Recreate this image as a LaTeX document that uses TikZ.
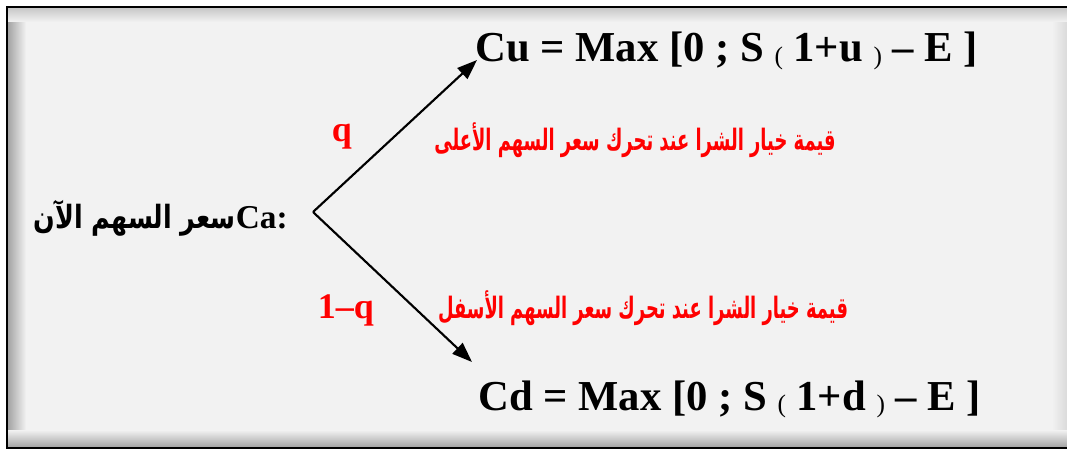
\documentclass[tikz,border=0pt]{standalone}
\usepackage{fontspec}
\setmainfont{Liberation Serif}
\newfontfamily\arabicfont[Script=Arabic]{DejaVu Sans}
\TeXXeTstate=1
\usetikzlibrary{arrows.meta}
\definecolor{bg}{HTML}{F2F2F2}
\definecolor{shadowdark}{HTML}{A4A4A4}
\definecolor{shadowmid}{HTML}{C8C8C8}
\definecolor{shadowlight}{HTML}{DADADA}
\newcommand{\smallparen}[1]{\raisebox{-2pt}{\mdseries\fontsize{19}{19}\selectfont #1}}
\tikzset{
  formula/.style={inner sep=0pt, anchor=base west, font=\bfseries\fontsize{32}{32}\selectfont},
  prob/.style={inner sep=0pt, text=red, font=\bfseries\fontsize{27}{27}\selectfont},
  arlabel/.style={inner sep=0pt, text=red, font=\arabicfont\bfseries\fontsize{17}{17}\selectfont},
  branch/.style={line width=1.6pt, -{Triangle[length=15pt,width=11pt]}}
}
\begin{document}
\begin{tikzpicture}[x=0.75pt,y=-0.75pt]
\useasboundingbox (0,0) rectangle (1067,453);
% frame with inner shadow
\fill[bg] (7,7) rectangle (1080,448);
\shade[left color=shadowdark, right color=bg] (8,8) rectangle (26,447);
\shade[right color=shadowlight, left color=bg] (1052,8) rectangle (1067,447);
\shade[top color=shadowmid, bottom color=bg] (8,8) rectangle (1067,22);
\shade[bottom color=shadowdark, top color=bg] (8,430) rectangle (1067,447);
\draw[line width=1.5pt] (1080,7) -- (7,7) -- (7,448) -- (1080,448);

% nodes
\node[formula] (cu) at (475,62) {Cu = Max [0 ; S \smallparen{(} 1+u \smallparen{)} -- E ]};
\node[formula] (cd) at (478,410) {Cd = Max [0 ; S \smallparen{(} 1+d \smallparen{)} -- E ]};
\node[prob] (q) at (342,137) {q};
\node[prob] (oneq) at (346,310) {1--q};
\node[arlabel] (lu) at (635,140) {\scalebox{0.79}[1.3]{\beginR قيمة خيار الشرا عند تحرك سعر السهم الأعلى\endR}};
\node[arlabel] (ld) at (643,308) {\scalebox{0.79}[1.3]{\beginR قيمة خيار الشرا عند تحرك سعر السهم الأسفل\endR}};
\node[inner sep=0pt, anchor=base east] (ca) at (288,228)
  {{\arabicfont\bfseries\fontsize{20}{20}\selectfont\scalebox{0.95}[1.2]{\beginR سعر السهم الآن\endR}}{\bfseries\fontsize{25}{25}\selectfont Ca:}};

% connectors
\coordinate (v) at (313,212);
\coordinate (up) at (477,60);
\coordinate (dn) at (472,362);
\draw[branch] (v) -- (up);
\draw[branch] (v) -- (dn);
\end{tikzpicture}
\end{document}
